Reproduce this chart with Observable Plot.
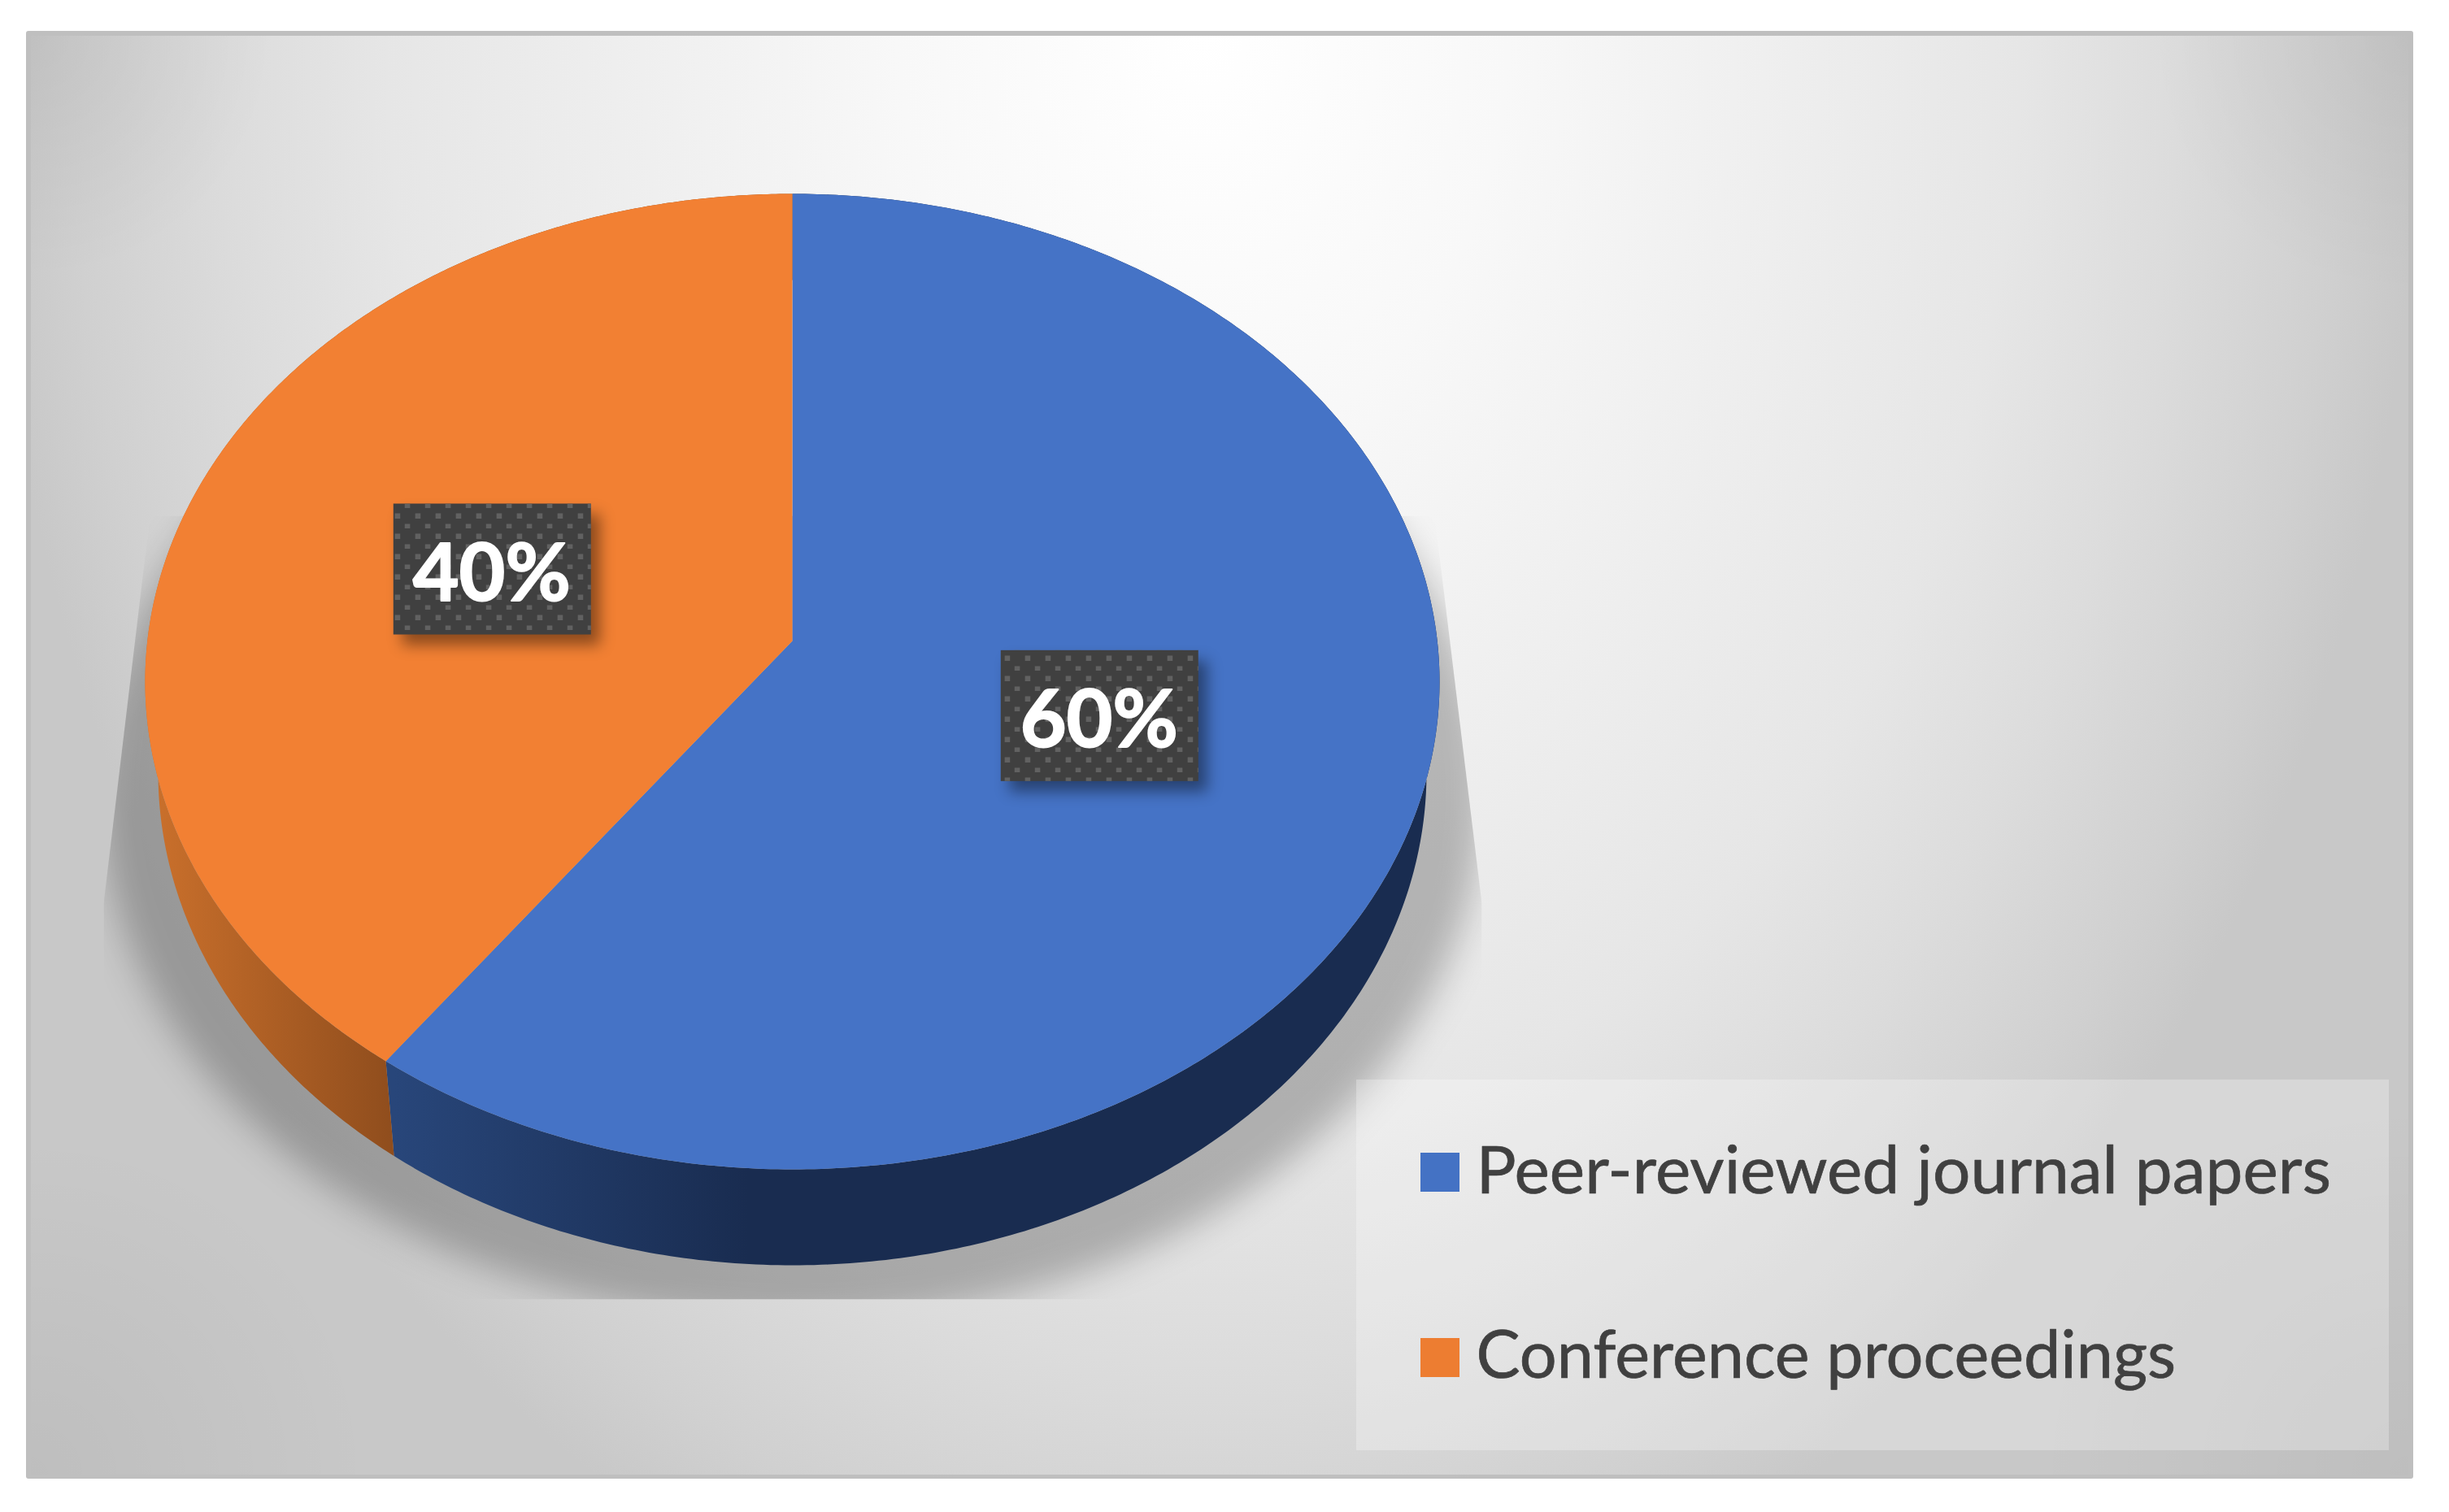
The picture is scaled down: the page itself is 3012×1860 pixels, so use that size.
<!DOCTYPE html>
<html><head><meta charset="utf-8">
<style>html,body{margin:0;padding:0;background:#fff}svg{display:block}</style>
<script src="https://cdn.jsdelivr.net/npm/d3@7"></script>
<script src="https://cdn.jsdelivr.net/npm/@observablehq/plot@0.6"></script>
</head><body><div id="chart"></div>
<script>
// ---- data ----
const categories = ["Peer-reviewed journal papers", "Conference proceedings"];
const shares = [60, 40];
const shareLabels = ["60%", "40%"];
const sliceColors = ["#4573c6", "#f28033"];
const swatchColors = ["#4472c4", "#ed7d31"];

// ---- layout of the tilted disc ----
const W = 3012, H = 1860;
const topDisc = {cx: 974, cy: 838, rx: 796, ry: 600};
const botDisc = {cx: 974, cy: 950, rx: 780, ry: 606};
const tilt = -50 / 600; // perspective shift of the disc centre

function project(theta, r, disc) {
  const u = r * Math.sin(theta), v = -r * Math.cos(theta);
  const d = 1 + tilt * v;
  return {
    x: disc.cx + disc.rx * u * Math.sqrt(1 - tilt * tilt) / d,
    y: disc.cy + disc.ry * (v + tilt) / d
  };
}
const slices = d3.pie().sort(null).value(d => d)(shares);
const arcAngles = (a0, a1) => d3.range(0, 361).map(i => a0 + (a1 - a0) * i / 360);

const topPts = slices.flatMap((s, i) => [
  {...project(0, 0, topDisc), slice: categories[i]},
  ...arcAngles(s.startAngle, s.endAngle).map(t => ({...project(t, 1, topDisc), slice: categories[i]}))
]);
const sidePts = slices.map((s, i) => {
  const as = arcAngles(s.startAngle, s.endAngle);
  return [...as.map(t => project(t, 1, topDisc)), ...as.slice().reverse().map(t => project(t, 1, botDisc))];
});
const labelRows = slices.map((s, i) => ({...project((s.startAngle + s.endAngle) / 2, 0.495, topDisc), label: shareLabels[i]}));
labelRows[1].y += 2;

const shadowDisc = d3.range(0, 361, 2).map(a => {
  const t = a * Math.PI / 180;
  return {x: 974 + 850 * Math.cos(t), y: 975 + 650 * Math.sin(t)};
});

const panelOuter = [{x1: 32, x2: 2968, y1: 38, y2: 1819}];
const panelInner = [{x1: 38, x2: 2962, y1: 44, y2: 1814}];
const legendBox = [{x1: 1668, x2: 2938, y1: 1328, y2: 1784}];
const legendRows = categories.map((c, i) => ({name: c, y: [1442, 1670][i], color: swatchColors[i]}));

const defs = () => {
  const d = d3.create("svg:defs");
  d.html(`
  <radialGradient id="bgBase" gradientUnits="userSpaceOnUse" cx="0" cy="0" r="1"
     gradientTransform="translate(1480 38) scale(1500 2050)">
    <stop offset="0" stop-color="#ffffff"/><stop offset="0.25" stop-color="#f8f8f8"/>
    <stop offset="0.67" stop-color="#e6e6e6"/><stop offset="0.8" stop-color="#dcdcdc"/>
    <stop offset="0.93" stop-color="#d0d0d0"/><stop offset="1" stop-color="#c8c8c8"/>
  </radialGradient>
  <radialGradient id="cTL" gradientUnits="userSpaceOnUse" cx="38" cy="44" r="300">
    <stop offset="0" stop-color="#000" stop-opacity=".06"/><stop offset="1" stop-color="#000" stop-opacity="0"/></radialGradient>
  <radialGradient id="cTR" gradientUnits="userSpaceOnUse" cx="2962" cy="44" r="320">
    <stop offset="0" stop-color="#000" stop-opacity=".05"/><stop offset="1" stop-color="#000" stop-opacity="0"/></radialGradient>
  <radialGradient id="cBL" gradientUnits="userSpaceOnUse" cx="38" cy="1814" r="420">
    <stop offset="0" stop-color="#000" stop-opacity=".05"/><stop offset="1" stop-color="#000" stop-opacity="0"/></radialGradient>
  <radialGradient id="cBR" gradientUnits="userSpaceOnUse" cx="2962" cy="1814" r="460">
    <stop offset="0" stop-color="#000" stop-opacity=".05"/><stop offset="1" stop-color="#000" stop-opacity="0"/></radialGradient>
  <linearGradient id="sideBlue" gradientUnits="userSpaceOnUse" x1="485" y1="0" x2="920" y2="0">
    <stop offset="0" stop-color="#28467a"/><stop offset="1" stop-color="#192c50"/></linearGradient>
  <linearGradient id="sideOrange" gradientUnits="userSpaceOnUse" x1="178" y1="0" x2="485" y2="0">
    <stop offset="0" stop-color="#cc712c"/><stop offset="1" stop-color="#8f4d1d"/></linearGradient>
  <pattern id="dots" patternUnits="userSpaceOnUse" width="25" height="25">
    <rect x="10.7" y="6.5" width="6.5" height="6.5" fill="#616161"/>
    <rect x="-2.2" y="19.5" width="6.5" height="6.5" fill="#616161"/>
    <rect x="22.8" y="19.5" width="6.5" height="6.5" fill="#616161"/>
  </pattern>
  <clipPath id="shadowClip"><polygon points="1764,634 1822,1111 1822,1598 127,1598 127,1111 184,634"/></clipPath>`);
  return d.node();
};
const panelRect = (fill) => Plot.rect(panelInner, {x1: "x1", x2: "x2", y1: "y1", y2: "y2", fill});

const chart = Plot.plot({
  width: W, height: H, margin: 0,
  style: {background: "transparent", overflow: "visible"},
  x: {domain: [0, W], range: [0, W], axis: null},
  y: {domain: [0, H], range: [0, H], axis: null},
  color: {domain: categories, range: sliceColors},
  marks: [
    defs,
    Plot.rect(panelOuter, {x1: "x1", x2: "x2", y1: "y1", y2: "y2", fill: "#bfbfbf", rx: 3}),
    panelRect("url(#bgBase)"), panelRect("url(#cTL)"), panelRect("url(#cTR)"), panelRect("url(#cBL)"), panelRect("url(#cBR)"),
    Plot.line(shadowDisc, {
      x: "x", y: "y", curve: "linear-closed", fill: "#000", fillOpacity: 0.24, stroke: "none",
      imageFilter: "blur(22px)",
      render(index, scales, values, dimensions, context, next) {
        const g = next(index, scales, values, dimensions, context);
        g.setAttribute("clip-path", "url(#shadowClip)");
        return g;
      }
    }),
    Plot.line(sidePts[0], {x: "x", y: "y", curve: "linear-closed", fill: "url(#sideBlue)", stroke: "none"}),
    Plot.line(sidePts[1], {x: "x", y: "y", curve: "linear-closed", fill: "url(#sideOrange)", stroke: "none"}),
    Plot.line(topPts, {x: "x", y: "y", z: "slice", curve: "linear-closed", fill: "slice", stroke: "none"}),
    Plot.rect(labelRows, {
      x1: d => d.x - 121.5, x2: d => d.x + 121.5, y1: d => d.y - 80.5, y2: d => d.y + 80.5,
      fill: "#404040", imageFilter: "drop-shadow(11px 13px 9px rgba(0,0,0,.42))"
    }),
    Plot.rect(labelRows, {
      x1: d => d.x - 121.5, x2: d => d.x + 121.5, y1: d => d.y - 80.5, y2: d => d.y + 80.5,
      fill: "url(#dots)"
    }),
    Plot.text(labelRows, {
      x: d => d.x - 1, y: d => d.y + 7, text: "label", fill: "#fff", stroke: "#fff", strokeWidth: 2, fontFamily: "Lato", fontWeight: 700, fontSize: 98
    }),
    Plot.rect(legendBox, {x1: "x1", x2: "x2", y1: "y1", y2: "y2", fill: "#fff", fillOpacity: 0.27}),
    Plot.rect(legendRows, {x1: 1747, x2: 1795, y1: d => d.y - 24, y2: d => d.y + 24, fill: "color"}),
    Plot.text(legendRows.slice(0, 1), {
      x: 1815, y: d => d.y - 1, text: "name", textAnchor: "start", fill: "#404040", stroke: "#404040", strokeWidth: 0.7, fontFamily: "Lato", fontSize: 82
    }),
    Plot.text(legendRows.slice(1), {
      x: 1815, y: d => d.y - 1, text: "name", textAnchor: "start", fill: "#404040", stroke: "#404040", strokeWidth: 0.7, fontFamily: "Lato", fontSize: 81
    })
  ]
});
document.getElementById("chart").append(chart);
</script></body></html>
